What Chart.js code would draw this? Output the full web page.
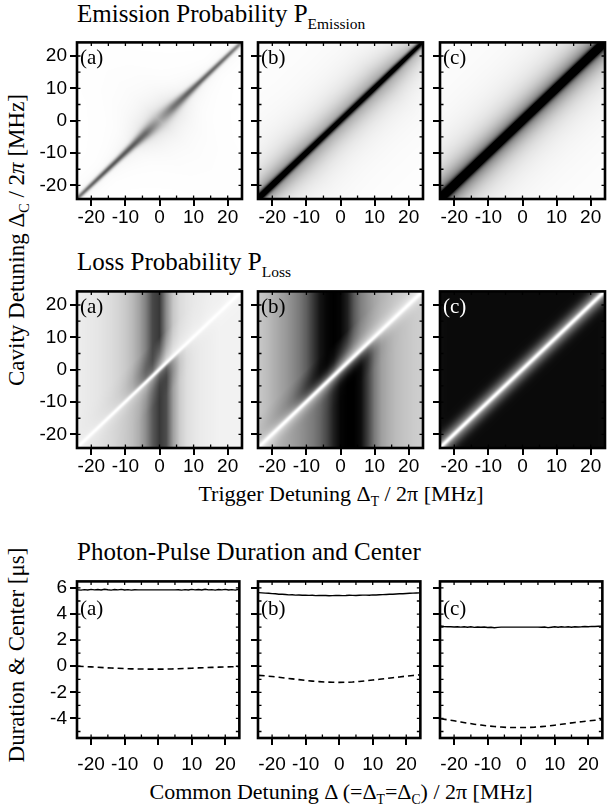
<!DOCTYPE html>
<html lang="en">
<head>
<meta charset="UTF-8" />
<title>Emission / Loss Probability and Photon-Pulse Duration</title>
<script src="https://cdn.jsdelivr.net/npm/chart.js"></script>
<style>
  body { margin: 0; background: #fff; width: 607px; height: 810px; position: relative; overflow: hidden; }
  canvas.panel { position: absolute; }
  .txt { position: absolute; white-space: nowrap; color: #000; font-family: "Liberation Serif", serif; line-height: 1; }
  .sub { position: relative; font-size: 0.62em; }
  .rot { transform: translate(-50%, -50%) rotate(-90deg); }
</style>
</head>
<body>

<div class="txt" style="left:77px; top:1px; font-size:25px;">Emission Probability P<span class="sub" style="top:7px;">Emission</span></div>
<div class="txt" style="left:77px; top:249px; font-size:25px;">Loss Probability P<span class="sub" style="top:7px;">Loss</span></div>
<div class="txt" style="left:77px; top:539px; font-size:25px;">Photon-Pulse Duration and Center</div>
<div class="txt" style="left:341px; top:483px; font-size:22px; transform:translateX(-50%);">Trigger Detuning &Delta;<span class="sub" style="top:5px;">T</span> / 2&pi; [MHz]</div>
<div class="txt" style="left:341px; top:781px; font-size:22px; transform:translateX(-50%);">Common Detuning &Delta; (=&Delta;<span class="sub" style="top:5px;">T</span>=&Delta;<span class="sub" style="top:5px;">C</span>) / 2&pi; [MHz]</div>
<div class="txt rot" style="left:16px; top:240px; font-size:23px;">Cavity Detuning &Delta;<span class="sub" style="top:5px;">C</span> / 2<i>&pi;</i> [MHz]</div>
<div class="txt rot" style="left:16px; top:655px; font-size:23px;">Duration &amp; Center [&mu;s]</div>

<script>
  // ---------- data ----------
  const heatTicks = [-20, -10, 0, 10, 20];
  const heatMinor = [-20, -15, -10, -5, 0, 5, 10, 15, 20];
  const durTicks = [6, 4, 2, 0, -2, -4];
  const durMinorY = [6, 5, 4, 3, 2, 1, 0, -1, -2, -3, -4, -5];

  // emission maps: profile along the diagonal (t = midpoint of trigger/cavity detuning)
  const emT = [-24, -20, -16, -12, -8, -4, 0, 4, 8, 12, 16, 20, 24];
  const emA_core  = [0.48, 0.55, 0.60, 0.60, 0.58, 0.46, 0.18, 0.42, 0.55, 0.56, 0.54, 0.50, 0.42];
  const emA_coreW = [0.9, 1.0, 1.1, 1.2, 1.5, 2.2, 3.0, 2.2, 1.6, 1.2, 1.1, 1.0, 0.9];
  const emA_halo  = [0.03, 0.03, 0.03, 0.04, 0.06, 0.12, 0.16, 0.12, 0.06, 0.04, 0.03, 0.03, 0.03];
  const emA_haloW = [3, 3, 3, 4, 5, 6, 6, 6, 5, 4, 3, 3, 3];
  const emB_core  = [0.95, 0.95, 0.93, 0.90, 0.88, 0.85, 0.82, 0.82, 0.84, 0.86, 0.86, 0.84, 0.78];
  const emB_coreW = [1.4, 1.4, 1.4, 1.4, 1.4, 1.4, 1.4, 1.4, 1.4, 1.3, 1.3, 1.2, 1.2];
  const emB_halo  = [0.50, 0.48, 0.45, 0.42, 0.40, 0.38, 0.38, 0.38, 0.38, 0.38, 0.36, 0.32, 0.28];
  const emB_haloW = [4, 5, 5.5, 6, 6, 6, 6, 6, 6, 6, 5.5, 5, 4];
  const emC_core  = [1, 1, 1, 1, 1, 1, 1, 1, 1, 1, 1, 1, 1];
  const emC_coreW = [1.8, 1.8, 1.8, 1.8, 1.8, 1.8, 1.8, 1.8, 1.8, 1.8, 1.8, 1.8, 1.8];
  const emC_halo  = [0.66, 0.65, 0.64, 0.63, 0.62, 0.62, 0.62, 0.62, 0.62, 0.62, 0.62, 0.62, 0.62];
  const emC_haloW = [5.5, 5.5, 5.5, 5.5, 5.5, 5.5, 5.5, 5.5, 5.5, 5.5, 5.5, 5.5, 5.5];

  // loss maps: darkness across trigger detuning, above (up) and below (low) the diagonal,
  // far from it and near it
  const heatX = [-24, -22, -20, -18, -16, -14, -12, -10, -8, -6, -4, -2, 0, 2, 4, 6, 8, 10, 12, 14, 16, 18, 20, 22, 24];
  const lossA_upFar   = [0.07, 0.08, 0.09, 0.10, 0.12, 0.14, 0.17, 0.21, 0.27, 0.36, 0.50, 0.72, 0.78, 0.45, 0.22, 0.14, 0.11, 0.09, 0.08, 0.07, 0.06, 0.06, 0.05, 0.05, 0.05];
  const lossA_upNear  = [0.08, 0.09, 0.10, 0.12, 0.14, 0.17, 0.21, 0.28, 0.38, 0.55, 0.72, 0.70, 0.40, 0.20, 0.12, 0.09, 0.08, 0.07, 0.07, 0.06, 0.06, 0.06, 0.05, 0.05, 0.05];
  const lossA_lowFar  = [0.08, 0.09, 0.10, 0.11, 0.13, 0.15, 0.18, 0.21, 0.25, 0.32, 0.45, 0.65, 0.78, 0.70, 0.38, 0.20, 0.13, 0.10, 0.08, 0.07, 0.06, 0.05, 0.05, 0.05, 0.05];
  const lossA_lowNear = [0.08, 0.09, 0.10, 0.11, 0.13, 0.15, 0.17, 0.20, 0.24, 0.28, 0.35, 0.50, 0.72, 0.78, 0.50, 0.25, 0.14, 0.10, 0.08, 0.07, 0.06, 0.05, 0.05, 0.05, 0.05];
  const lossB_upFar   = [0.22, 0.25, 0.30, 0.35, 0.40, 0.46, 0.53, 0.63, 0.78, 0.92, 0.98, 1.00, 0.98, 0.88, 0.65, 0.50, 0.42, 0.35, 0.30, 0.27, 0.24, 0.22, 0.20, 0.18, 0.18];
  const lossB_upNear  = [0.30, 0.35, 0.40, 0.46, 0.53, 0.63, 0.78, 0.92, 0.98, 1.00, 0.98, 0.88, 0.65, 0.50, 0.42, 0.35, 0.30, 0.27, 0.24, 0.22, 0.20, 0.19, 0.18, 0.18, 0.18];
  const lossB_lowFar  = [0.20, 0.22, 0.25, 0.30, 0.34, 0.38, 0.42, 0.47, 0.52, 0.60, 0.72, 0.88, 0.98, 1.00, 1.00, 0.95, 0.75, 0.52, 0.38, 0.32, 0.27, 0.24, 0.22, 0.20, 0.19];
  const lossB_lowNear = [0.20, 0.22, 0.25, 0.30, 0.34, 0.38, 0.42, 0.47, 0.52, 0.58, 0.68, 0.82, 0.95, 1.00, 1.00, 0.98, 0.85, 0.60, 0.42, 0.33, 0.28, 0.25, 0.22, 0.20, 0.19];
  const lossC_all     = [0.95, 0.96, 0.96, 0.96, 0.96, 0.96, 0.96, 0.96, 0.96, 0.96, 0.96, 0.96, 0.96, 0.96, 0.96, 0.96, 0.96, 0.96, 0.96, 0.96, 0.96, 0.96, 0.96, 0.96, 0.95];
  // white diagonal in the loss maps: [core strength, core width, glow strength, glow width]
  const lossA_line = [1.0, 0.9, 0.25, 3.0];
  const lossB_line = [1.0, 1.0, 0.45, 3.0];
  const lossC_line = [1.0, 1.0, 0.55, 3.5];

  // photon pulse: duration (solid, 1 MHz steps) and center (dashed, 2 MHz steps)
  const durX = [-24,-23,-22,-21,-20,-19,-18,-17,-16,-15,-14,-13,-12,-11,-10,-9,-8,-7,-6,-5,-4,-3,-2,-1,0,1,2,3,4,5,6,7,8,9,10,11,12,13,14,15,16,17,18,19,20,21,22,23,24];
  const durA = [5.85,5.83,5.87,5.84,5.89,5.85,5.88,5.84,5.90,5.86,5.83,5.88,5.85,5.89,5.84,5.87,5.83,5.86,5.85,5.85,5.85,5.85,5.85,5.85,5.85,5.85,5.85,5.85,5.85,5.85,5.86,5.83,5.87,5.84,5.89,5.85,5.88,5.84,5.90,5.85,5.87,5.83,5.88,5.85,5.89,5.84,5.87,5.83,5.90];
  const durB = [5.64,5.62,5.60,5.59,5.56,5.55,5.52,5.52,5.50,5.47,5.48,5.45,5.46,5.44,5.45,5.43,5.44,5.41,5.42,5.43,5.42,5.40,5.41,5.42,5.42,5.41,5.42,5.44,5.43,5.42,5.44,5.45,5.45,5.44,5.47,5.46,5.48,5.49,5.50,5.51,5.52,5.54,5.55,5.55,5.57,5.59,5.60,5.61,5.62];
  const durC = [3.08,3.04,3.02,3.02,3.01,3.02,3.00,3.03,2.99,3.02,2.98,3.01,2.99,3.00,2.97,2.99,2.95,2.98,3.00,3.00,3.00,3.00,3.00,3.00,3.00,3.00,3.00,3.00,3.00,3.00,2.99,3.01,2.96,2.99,3.02,2.99,3.03,3.00,3.02,2.99,3.03,3.01,3.02,3.04,3.02,3.05,3.04,3.06,3.07];
  const cenX = [-24, -22, -20, -18, -16, -14, -12, -10, -8, -6, -4, -2, 0, 2, 4, 6, 8, 10, 12, 14, 16, 18, 20, 22, 24];
  const cenA = [0.00, -0.02, -0.05, -0.08, -0.11, -0.14, -0.16, -0.18, -0.20, -0.21, -0.22, -0.22, -0.22, -0.22, -0.21, -0.19, -0.17, -0.15, -0.13, -0.11, -0.09, -0.07, -0.05, -0.04, -0.03];
  const cenB = [-0.70, -0.74, -0.79, -0.85, -0.91, -0.97, -1.03, -1.09, -1.14, -1.18, -1.21, -1.23, -1.24, -1.23, -1.21, -1.17, -1.12, -1.06, -1.00, -0.94, -0.88, -0.82, -0.76, -0.71, -0.66];
  const cenC = [-4.02, -4.10, -4.18, -4.27, -4.36, -4.44, -4.51, -4.57, -4.62, -4.66, -4.69, -4.70, -4.70, -4.69, -4.67, -4.63, -4.58, -4.52, -4.45, -4.38, -4.31, -4.25, -4.19, -4.14, -4.10];

  // ---------- layout ----------
  const colLeft = [77, 258, 440];
  const rowTop = [33, 282, 572];
  const panelW = 165, panelH = 166;
  const axisW = 45, axisH = 34, padTop = 5, padRight = 2;

  Chart.defaults.animation = false;
  Chart.defaults.plugins.legend.display = false;
  Chart.defaults.plugins.tooltip.enabled = false;

  function lerpArr(xs, ys, v) {
    if (v <= xs[0]) return ys[0];
    if (v >= xs[xs.length - 1]) return ys[ys.length - 1];
    let i = 1;
    while (xs[i] < v) i++;
    const f = (v - xs[i - 1]) / (xs[i] - xs[i - 1]);
    return ys[i - 1] + (ys[i] - ys[i - 1]) * f;
  }

  function emissionShade(core, coreW, halo, haloW) {
    return (xv, yv) => {
      const d = yv - xv, t = (xv + yv) / 2;
      const c = lerpArr(emT, core, t), cw = lerpArr(emT, coreW, t);
      const h = lerpArr(emT, halo, t), hw = lerpArr(emT, haloW, t);
      return c * Math.exp(-((d / cw) ** 2)) + h / (1 + (d / hw) ** 2);
    };
  }

  function lossShade(upFar, upNear, lowFar, lowNear, line) {
    return (xv, yv) => {
      const d = yv - xv;
      const far = lerpArr(heatX, d > 0 ? upFar : lowFar, xv);
      const near = lerpArr(heatX, d > 0 ? upNear : lowNear, xv);
      const w = Math.min(1, Math.abs(d) / 10);
      const bg = near + (far - near) * w;
      return bg * (1 - line[0] * Math.exp(-((d / line[1]) ** 2))) * (1 - line[2] * Math.exp(-((d / line[3]) ** 2)));
    };
  }

  function heatPlugin(shade) {
    return {
      id: 'heat',
      beforeDatasetsDraw(chart) {
        const { ctx, chartArea: a, scales: { x, y } } = chart;
        const w = Math.round(a.width), h = Math.round(a.height);
        const img = ctx.createImageData(w, h);
        for (let j = 0; j < h; j++) {
          const yv = y.getValueForPixel(a.top + j + 0.5);
          for (let i = 0; i < w; i++) {
            const xv = x.getValueForPixel(a.left + i + 0.5);
            const v = Math.min(1, Math.max(0, shade(xv, yv)));
            const g = Math.round(255 * (1 - v));
            const k = (j * w + i) * 4;
            img.data[k] = img.data[k + 1] = img.data[k + 2] = g;
            img.data[k + 3] = 255;
          }
        }
        ctx.putImageData(img, Math.round(a.left), Math.round(a.top));
      }
    };
  }

  function framePlugin(label, labelColor, labelDy, xMinor, yMinor) {
    return {
      id: 'frame',
      afterDraw(chart) {
        const { ctx, chartArea: a, scales: { x, y } } = chart;
        ctx.save();
        ctx.strokeStyle = '#000';
        ctx.lineWidth = 1.3;
        ctx.beginPath();
        xMinor.forEach(v => {
          const p = x.getPixelForValue(v);
          ctx.moveTo(p, a.top); ctx.lineTo(p, a.top + 3.5);
          ctx.moveTo(p, a.bottom); ctx.lineTo(p, a.bottom - 3.5);
        });
        yMinor.forEach(v => {
          const p = y.getPixelForValue(v);
          ctx.moveTo(a.left, p); ctx.lineTo(a.left + 3.5, p);
          ctx.moveTo(a.right, p); ctx.lineTo(a.right - 3.5, p);
        });
        ctx.stroke();
        ctx.lineWidth = 2.6;
        ctx.strokeRect(a.left, a.top, a.width, a.height);
        ctx.fillStyle = labelColor;
        ctx.font = '21px "Liberation Serif", serif';
        ctx.textBaseline = 'alphabetic';
        ctx.fillText(label, a.left + 3, a.top + labelDy);
        ctx.restore();
      }
    };
  }

  function axis(isX, ticksArr, range, showLabels, pad) {
    return {
      type: 'linear',
      min: range[0], max: range[1],
      afterBuildTicks: s => { s.ticks = ticksArr.map(v => ({ value: v })); },
      afterFit: s => { if (isX) s.height = axisH; else s.width = axisW; },
      grid: { display: true, drawOnChartArea: false, drawTicks: true, tickLength: 7, color: '#000', lineWidth: 2 },
      border: { display: false },
      ticks: {
        color: '#000', padding: pad, autoSkip: false, maxRotation: 0,
        font: { family: '"Liberation Sans", Arial, sans-serif', size: 19 },
        callback: v => showLabels ? String(v) : ''
      }
    };
  }

  function makeCanvas(row, col) {
    const c = document.createElement('canvas');
    c.className = 'panel';
    c.width = axisW + panelW + padRight;
    c.height = padTop + panelH + axisH;
    c.style.left = (colLeft[col] - axisW) + 'px';
    c.style.top = (rowTop[row] - padTop) + 'px';
    document.body.appendChild(c);
    return c;
  }

  const xRange = [-24.2, 24.2];
  const heatPanels = [
    { row: 0, col: 0, label: '(a)', color: '#000', shade: emissionShade(emA_core, emA_coreW, emA_halo, emA_haloW) },
    { row: 0, col: 1, label: '(b)', color: '#000', shade: emissionShade(emB_core, emB_coreW, emB_halo, emB_haloW) },
    { row: 0, col: 2, label: '(c)', color: '#000', shade: emissionShade(emC_core, emC_coreW, emC_halo, emC_haloW) },
    { row: 1, col: 0, label: '(a)', color: '#000', shade: lossShade(lossA_upFar, lossA_upNear, lossA_lowFar, lossA_lowNear, lossA_line) },
    { row: 1, col: 1, label: '(b)', color: '#000', shade: lossShade(lossB_upFar, lossB_upNear, lossB_lowFar, lossB_lowNear, lossB_line) },
    { row: 1, col: 2, label: '(c)', color: '#fff', shade: lossShade(lossC_all, lossC_all, lossC_all, lossC_all, lossC_line) }
  ];

  heatPanels.forEach(p => {
    new Chart(makeCanvas(p.row, p.col), {
      type: 'scatter',
      data: { datasets: [] },
      options: {
        responsive: false,
        layout: { padding: { top: padTop, right: padRight, left: 0, bottom: 0 } },
        scales: {
          x: axis(true, heatTicks, xRange, true, 0),
          y: axis(false, heatTicks, xRange, p.col === 0, 3)
        }
      },
      plugins: [heatPlugin(p.shade), framePlugin(p.label, p.color, 22, heatMinor, heatMinor)]
    });
  });

  const linePanels = [
    { col: 0, label: '(a)', dur: durA, cen: cenA },
    { col: 1, label: '(b)', dur: durB, cen: cenB },
    { col: 2, label: '(c)', dur: durC, cen: cenC }
  ];

  linePanels.forEach(p => {
    new Chart(makeCanvas(2, p.col), {
      type: 'scatter',
      data: {
        datasets: [
          { data: durX.map((v, i) => ({ x: v, y: p.dur[i] })), showLine: true, pointRadius: 0, borderColor: '#000', borderWidth: 1.4 },
          { data: cenX.map((v, i) => ({ x: v, y: p.cen[i] })), showLine: true, pointRadius: 0, borderColor: '#000', borderWidth: 1.6, borderDash: [6, 4] }
        ]
      },
      options: {
        responsive: false,
        layout: { padding: { top: padTop, right: padRight, left: 0, bottom: 0 } },
        scales: {
          x: axis(true, heatTicks, xRange, true, 8),
          y: axis(false, durTicks, [-5.5, 6.5], p.col === 0, 3)
        }
      },
      plugins: [framePlugin(p.label, '#000', 34, heatMinor, durMinorY)]
    });
  });
</script>
</body>
</html>
